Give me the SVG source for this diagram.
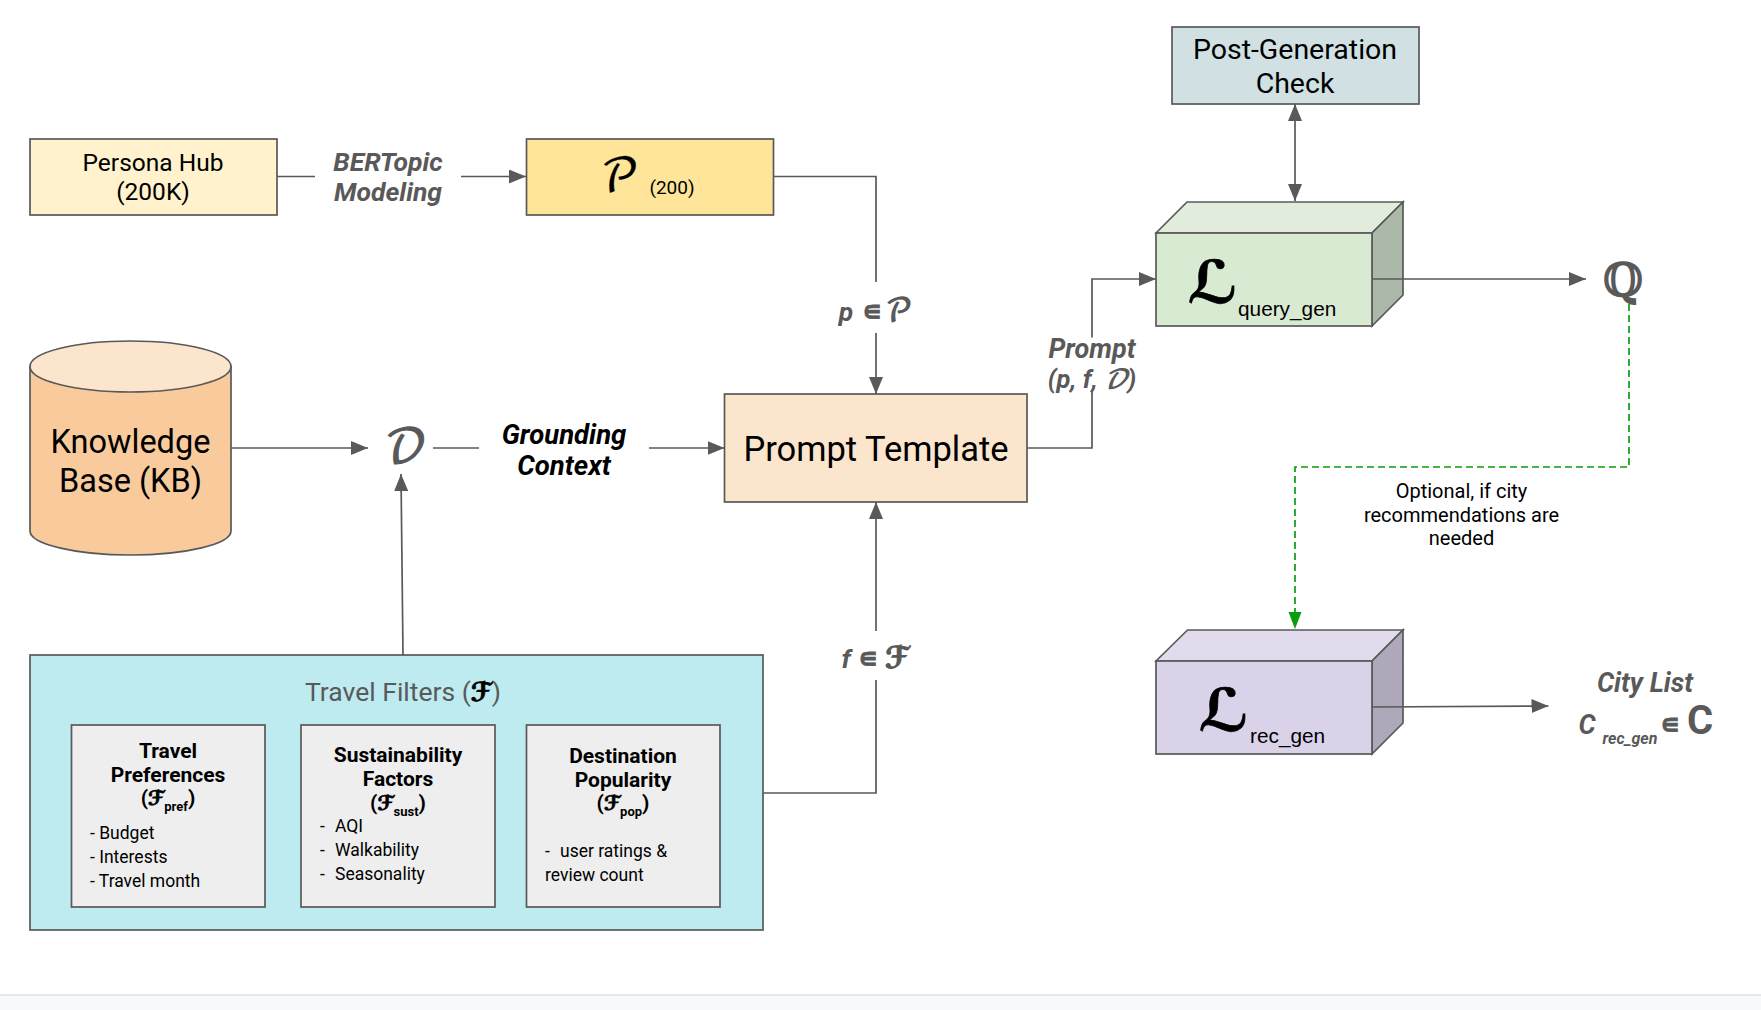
<svg xmlns="http://www.w3.org/2000/svg" width="1761" height="1010" viewBox="0 0 1761 1010">
<style>
text{font-family:"Roboto","Liberation Sans",sans-serif;fill:#000;text-anchor:middle}
.s{stroke:#595959;stroke-width:1.7}
.c{fill:none;stroke:#595959;stroke-width:1.7}
.m{font-family:"DejaVu Math TeX Gyre","DejaVu Serif","DejaVu Sans",serif}
.d{font-family:"DejaVu Sans",sans-serif;font-weight:700;stroke:#000;stroke-width:.8}
.dg{font-family:"DejaVu Sans",sans-serif;font-weight:700;stroke:#595959;stroke-width:1}
.e{font-family:"DejaVu Sans",sans-serif;font-weight:700;font-style:normal;stroke:#595959;stroke-width:.8}
.g{fill:#595959}
.lab{font-style:italic;font-weight:700;font-size:26.500px}
.t{font-weight:700;font-size:21px}
.l{font-size:17.500px;text-anchor:start}
.a{font-family:"Liberation Sans",sans-serif;font-size:20.800px;text-anchor:start}
</style>
<defs>
<marker id="ar" markerUnits="userSpaceOnUse" markerWidth="18" markerHeight="14" refX="17" refY="7" orient="auto-start-reverse"><path d="M0 0L17 7L0 14Z" fill="#595959"/></marker>
</defs>
<rect x="0" y="995" width="1761" height="15" fill="#f8f9fa"/>
<line x1="0" y1="995" x2="1761" y2="995" stroke="#d0d2d5" stroke-width="1"/>
<g id="persona-hub">
<rect class="s" x="30" y="139" width="247" height="76" fill="#fff2cc"/>
<text x="153" y="171" font-size="24.500">Persona Hub</text>
<text x="153" y="200" font-size="24.500">(200K)</text>
</g>
<g id="bertopic-label">
<text class="lab g" x="388" y="171">BERTopic</text>
<text class="lab g" x="388" y="201">Modeling</text>
</g>
<g id="persona-set">
<rect class="s" x="526.500" y="139" width="247" height="76" fill="#ffe599"/>
<text class="m" x="620" y="192" font-size="46" stroke="#000" stroke-width=".3">𝒫</text>
<text x="672" y="194" font-size="19">(200)</text>
</g>
<g id="p-label">
<text class="lab g" x="846" y="321">p</text>
<text class="e g" x="872" y="320" font-size="27">∊</text>
<text class="m g" x="899" y="321" font-size="32" font-weight="700">𝒫</text>
</g>
<g id="knowledge-base">
<path class="s" d="M30 366.500V531C30 544 75 555 130.500 555S231 544 231 531V366.500Z" fill="#f9cb9c"/>
<ellipse class="s" cx="130.500" cy="366.500" rx="100.500" ry="25.500" fill="#fce5cd"/>
<text x="130.500" y="453" font-size="32.500">Knowledge</text>
<text x="130.500" y="492" font-size="32.500">Base (KB)</text>
</g>
<g id="d-symbol">
<text class="m g" x="406" y="462" font-size="46" stroke="#595959" stroke-width="1.200">𝒟</text>
</g>
<g id="grounding-label">
<text class="lab" x="564" y="444" style="font-size:27.500px">Grounding</text>
<text class="lab" x="564" y="475" style="font-size:27.500px">Context</text>
</g>
<g id="prompt-template">
<rect class="s" x="724.500" y="394" width="302.500" height="108" fill="#fce5cd"/>
<text x="876" y="461" font-size="34.500">Prompt Template</text>
</g>
<g id="prompt-label">
<text class="lab g" x="1092" y="358" style="font-size:27px">Prompt</text>
<text class="lab g" x="1092" y="388" style="font-size:25.500px">(p, f, <tspan class="m">𝒟</tspan>)</text>
</g>
<g id="post-generation-check">
<rect class="s" x="1172" y="27" width="247" height="77" fill="#d0e0e3"/>
<text x="1295" y="59" font-size="28.500">Post-Generation</text>
<text x="1295" y="93" font-size="28.500">Check</text>
</g>
<g id="llm-query-gen">
<path class="s" d="M1156 233L1187 202H1403L1372 233Z" fill="#e1ecdc"/>
<path class="s" d="M1372 233L1403 202V295L1372 326Z" fill="#aab9a8"/>
<rect class="s" x="1156" y="233" width="216" height="93" fill="#d9ead3"/>
<text class="d" x="1213" y="303" font-size="59">ℒ</text>
<text class="a" x="1238" y="316">query_gen</text>
</g>
<g id="q-symbol">
<text class="g" x="1623" y="296" font-size="46" font-weight="700" style="font-family:'DejaVu Serif',serif">ℚ</text>
</g>
<g id="optional-label">
<text x="1461.500" y="498" font-size="20">Optional, if city</text>
<text x="1461.500" y="522" font-size="20">recommendations are</text>
<text x="1461.500" y="545" font-size="20">needed</text>
</g>
<g id="llm-rec-gen">
<path class="s" d="M1156 661L1187.500 630H1403L1372 661Z" fill="#e1dbed"/>
<path class="s" d="M1372 661L1403 630V723L1372 754Z" fill="#aea8ba"/>
<rect class="s" x="1156" y="661" width="216" height="93" fill="#d9d2e9"/>
<text class="d" x="1224" y="731" font-size="59">ℒ</text>
<text class="a" x="1250" y="743">rec_gen</text>
</g>
<g id="city-list">
<text class="lab g" x="1645" y="692" style="font-size:27px">City List</text>
<text class="lab g" x="1587" y="734" style="font-size:27px">C</text>
<text class="g" x="1630" y="744" font-size="16" font-style="italic" font-weight="700">rec_gen</text>
<text class="e g" x="1670" y="733" font-size="27">∊</text>
<text class="g" x="1700" y="734" font-size="40" font-weight="700">C</text>
</g>
<g id="f-label">
<text class="lab g" x="846" y="668">f</text>
<text class="e g" x="868" y="667" font-size="27">∊</text>
<text class="dg g" x="897" y="668" font-size="30">ℱ</text>
</g>
<g id="travel-filters">
<rect class="s" x="30" y="655" width="733" height="275" fill="#bdebf0"/>
<text class="g" x="403" y="701" font-size="26.500">Travel Filters (<tspan class="d" fill="#000" font-size="26">ℱ</tspan>)</text>
</g>
<g id="travel-preferences">
<rect class="s" x="71.500" y="725" width="193.500" height="182" fill="#eeeeee"/>
<text class="t" x="168" y="758">Travel</text>
<text class="t" x="168" y="782">Preferences</text>
<text class="t" x="168" y="805">(<tspan class="d" font-size="20">ℱ</tspan><tspan font-size="13" dy="6">pref</tspan><tspan dy="-6">)</tspan></text>
<text class="l" x="90" y="839">- Budget</text>
<text class="l" x="90" y="863">- Interests</text>
<text class="l" x="90" y="887">- Travel month</text>
</g>
<g id="sustainability-factors">
<rect class="s" x="301" y="725" width="194" height="182" fill="#eeeeee"/>
<text class="t" x="398" y="762">Sustainability</text>
<text class="t" x="398" y="786">Factors</text>
<text class="t" x="398" y="810">(<tspan class="d" font-size="20">ℱ</tspan><tspan font-size="13" dy="6">sust</tspan><tspan dy="-6">)</tspan></text>
<text class="l" x="320" y="832">-</text><text class="l" x="335" y="832">AQI</text>
<text class="l" x="320" y="856">-</text><text class="l" x="335" y="856">Walkability</text>
<text class="l" x="320" y="880">-</text><text class="l" x="335" y="880">Seasonality</text>
</g>
<g id="destination-popularity">
<rect class="s" x="526.500" y="725" width="193.500" height="182" fill="#eeeeee"/>
<text class="t" x="623" y="763">Destination</text>
<text class="t" x="623" y="787">Popularity</text>
<text class="t" x="623" y="810">(<tspan class="d" font-size="20">ℱ</tspan><tspan font-size="13" dy="6">pop</tspan><tspan dy="-6">)</tspan></text>
<text class="l" x="545" y="857">-</text><text class="l" x="560" y="857">user ratings &amp;</text>
<text class="l" x="545" y="881">review count</text>
</g>
<g id="connectors">
<path class="c" d="M277 176.500H315"/>
<path class="c" d="M461 176.500H526" marker-end="url(#ar)"/>
<path class="c" d="M773 176.500H876V282"/>
<path class="c" d="M876 333V394" marker-end="url(#ar)"/>
<path class="c" d="M231 448H368" marker-end="url(#ar)"/>
<path class="c" d="M433 448H479"/>
<path class="c" d="M649 448H724.500" marker-end="url(#ar)"/>
<path class="c" d="M403 655L401 474" marker-end="url(#ar)"/>
<path class="c" d="M763 793H876V680"/>
<path class="c" d="M876 631V502" marker-end="url(#ar)"/>
<path class="c" d="M1027 448H1092V391"/>
<path class="c" d="M1092 337.500V279H1156" marker-end="url(#ar)"/>
<path class="c" d="M1295 104V201" marker-start="url(#ar)" marker-end="url(#ar)"/>
<path class="c" d="M1372 279H1586" marker-end="url(#ar)"/>
<path class="c" d="M1372 707L1548.500 706" marker-end="url(#ar)"/>
<path d="M1629 304V467H1295V629" fill="none" stroke="#0b9c10" stroke-width="1.700" stroke-dasharray="7 4"/>
<path d="M1288.500 612H1301.500L1295 629Z" fill="#0b9c10"/>
</g>
</svg>
